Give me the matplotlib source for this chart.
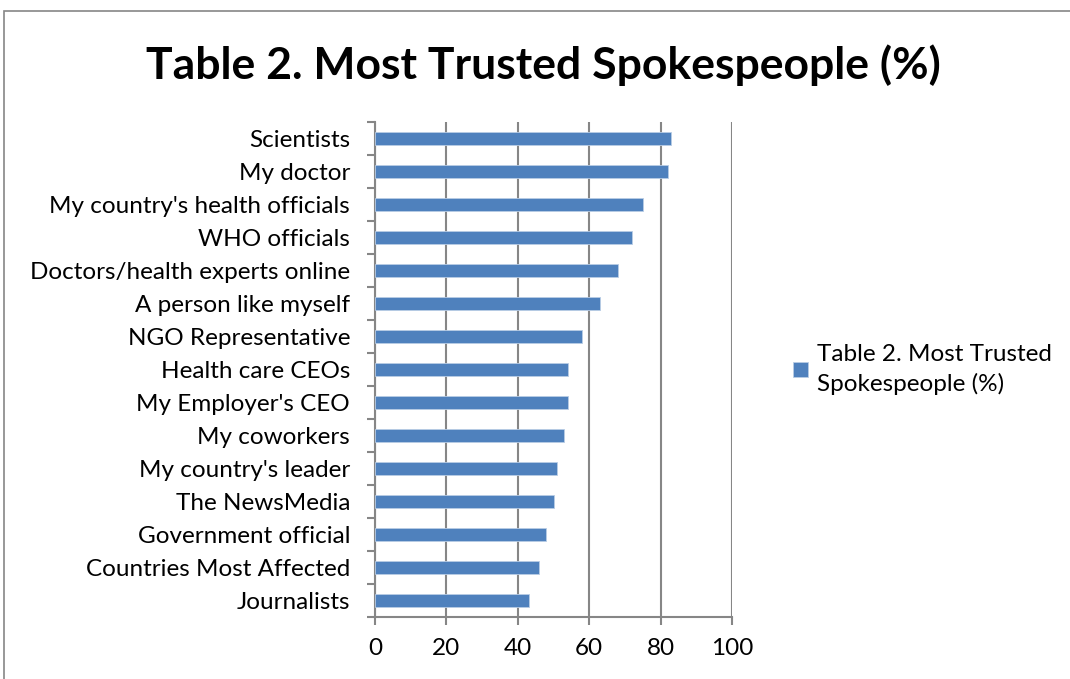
import matplotlib.pyplot as plt
from matplotlib.patches import Rectangle
import numpy as np

plt.rcParams['font.family'] = ['Lato', 'DejaVu Sans']

spokespeople = ["Scientists", "My doctor", "My country's health officials", "WHO officials",
                "Doctors/health experts online", "A person like myself", "NGO Representative",
                "Health care CEOs", "My Employer's CEO", "My coworkers", "My country's leader",
                "The NewsMedia", "Government official", "Countries Most Affected", "Journalists"]
trust_pct = [83, 82, 75, 72, 68, 63, 58, 54, 54, 53, 51, 50, 48, 46, 43]
series_name = "Table 2. Most Trusted\nSpokespeople (%)"
x_ticks = [0, 20, 40, 60, 80, 100]

fig = plt.figure(figsize=(10.7, 6.79), dpi=100)
ax = fig.add_axes([0.3505, 0.0913, 0.3336, 0.7290])

# category 0 at top
y = np.arange(len(spokespeople))[::-1]
ax.barh(y, trust_pct, height=0.4, color='#4F81BD', edgecolor='#B9CDE5', linewidth=0.6,
        label=series_name, zorder=3)

ax.set_xlim(0, 100)
ax.set_ylim(-0.5, len(spokespeople) - 0.5)
ax.set_xticks(x_ticks)
ax.set_xticklabels([str(t) for t in x_ticks])
ax.set_yticks(y)
ax.set_yticklabels(spokespeople)
ax.set_yticks(np.arange(len(spokespeople) + 1) - 0.5, minor=True)

ax.grid(axis='x', color='#868686', linewidth=1.5, zorder=0)
for s in ['top', 'right']:
    ax.spines[s].set_visible(False)
for s in ['left', 'bottom']:
    ax.spines[s].set_color('#868686')
    ax.spines[s].set_linewidth(1.5)

ax.tick_params(axis='y', which='major', length=0, pad=18, labelsize=17.5)
ax.tick_params(axis='y', which='minor', length=6, width=1.5, color='#868686')
ax.tick_params(axis='x', length=6, width=1.5, color='#868686', pad=9, labelsize=17.5)

fig.suptitle("Table 2. Most Trusted Spokespeople (%)", x=0.508, y=0.935,
             fontsize=32, fontweight='bold')

leg = ax.legend(loc='center left', bbox_to_anchor=(1.11, 0.5), frameon=False, fontsize=17.5,
                handlelength=0.6, handleheight=0.6, handletextpad=0.4)
for t in leg.get_texts():
    t.set_linespacing(1.45)

fig.patches.append(Rectangle((4 / 1070, -0.1), 1.2, 1 - 11 / 679 + 0.1, transform=fig.transFigure,
                             fill=False, edgecolor='#868686', linewidth=1.2))

fig.savefig('out.png', dpi=100)
